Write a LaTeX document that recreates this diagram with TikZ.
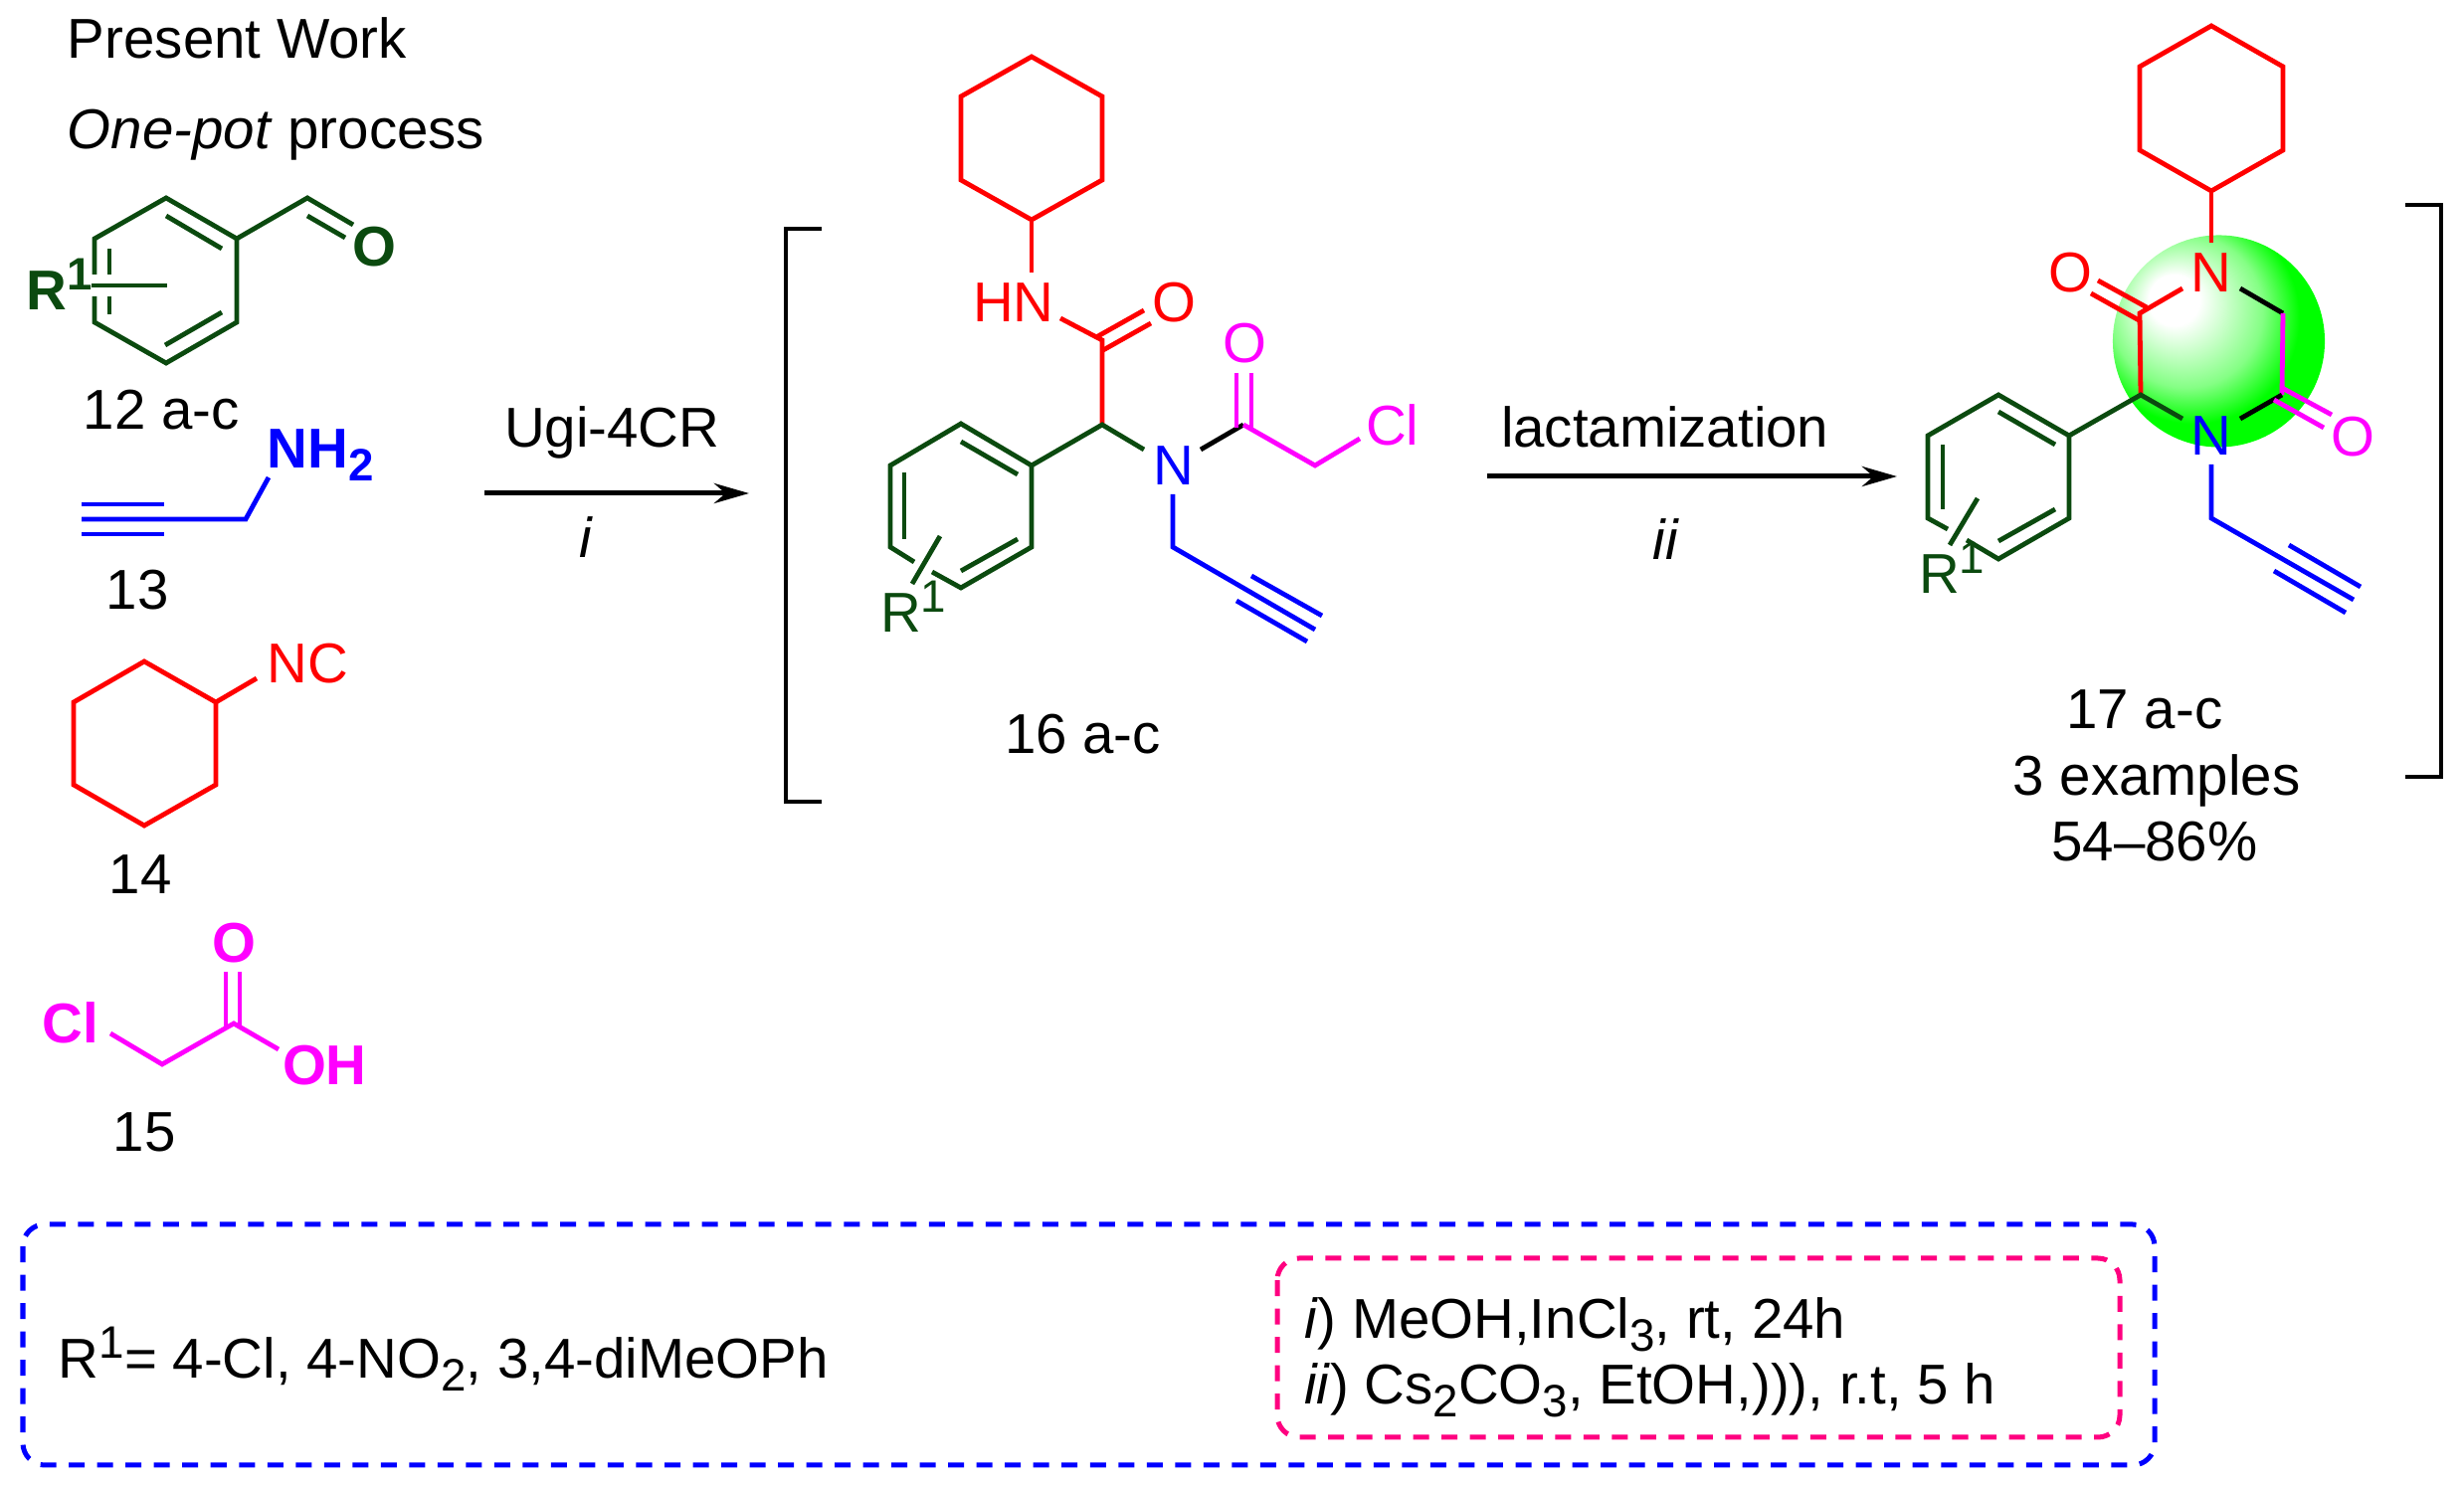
\documentclass[tikz,border=0pt]{standalone}
\usepackage{fontspec}
\setmainfont{Liberation Sans}
\usetikzlibrary{arrows.meta,calc,positioning}
\definecolor{leaf}{HTML}{0B4A0F}
\definecolor{rose}{HTML}{FF0080}
\definecolor{fuchsia}{HTML}{FF00FF}
\definecolor{pure red}{HTML}{FF0000}
\definecolor{pure blue}{HTML}{0000FF}
\pgfdeclareradialshading{lactam ball}{\pgfpoint{-12bp}{11bp}}{%
  rgb(0bp)=(1,1,1);rgb(6bp)=(1,1,1);rgb(11bp)=(0.8,1,0.8);rgb(18bp)=(0.52,1,0.52);rgb(23bp)=(0.15,1,0.15);rgb(25bp)=(0,1,0);rgb(50bp)=(0,1,0)}
\newcommand{\chemsup}[1]{\raisebox{0.37em}{\fontsize{13}{13}\selectfont #1}}
\newcommand{\chemsub}[1]{\raisebox{-0.22em}{\fontsize{13}{13}\selectfont #1}}
\begin{document}
\begin{tikzpicture}[% one unit is one pixel of the reference
        x = 0.01cm, y = -0.01cm,
        > = {Stealth[length=3.5mm,width=2mm]},
bond/.style  = {line width=0.48mm, line join=miter},
txt/.style   = {inner sep=0pt, outer sep=0pt, xshift=-0.03cm, font=\fontsize{16.05}{19}\selectfont, anchor=base west},
btxt/.style  = {txt, font=\fontsize{16.05}{19}\selectfont\bfseries},
atom/.style  = {inner sep=0pt, outer sep=0pt, font=\fontsize{16.05}{19}\selectfont},
batom/.style = {inner sep=0pt, outer sep=0pt, font=\fontsize{16.05}{19}\selectfont\bfseries},
bracket/.style = {line width=0.45mm, line join=miter},
frame/.style = {line width=0.5mm, rounded corners=2.2mm, dash pattern=on 1.6mm off 1.25mm}
                        ]
	\useasboundingbox (0,0) rectangle (2477,1495);

	% headings
	\node[txt] (head1) at (71,59) {Present Work};
	\node[txt] (head2) at (71,150) {\textit{One-pot} process};

	% aldehyde 12
	\coordinate (a1) at (167,199);
	\coordinate (a2) at (238,240);
	\coordinate (a3) at (238,324);
	\coordinate (a4) at (167,365);
	\coordinate (a5) at (95,324);
	\coordinate (a6) at (95,240);
	\coordinate (a7) at (309,199);
	\draw[bond,leaf] (95,276) -- (a6) -- (a1) -- (a2) -- (a3) -- (a4) -- (a5) -- (95,298);
	\draw[bond,leaf] (167,217) -- (223,250);
	\draw[bond,leaf] (166,347) -- (223,314);
	\draw[bond,leaf] (110,250) -- (110,276);
	\draw[bond,leaf] (110,298) -- (110,316);
	\draw[bond,leaf] (92,287) -- (168,287);
	\draw[bond,leaf] (a2) -- (a7) -- (355,226);
	\draw[bond,leaf] (309,217) -- (347,239);
	\node[batom,leaf] (oa) at (376,248) {O};
	\node[btxt,leaf] (ra) at (30,312) {R\chemsup{1}};
	\node[txt] (n12) at (87,432) {12 a-c};

	% amine 13
	\coordinate (b1) at (82,522);
	\coordinate (b2) at (247,522);
	\coordinate (b3) at (270,480);
	\draw[bond,pure blue] (b1) -- (b2) -- (b3);
	\draw[bond,pure blue] (82,507) -- (165,507);
	\draw[bond,pure blue] (82,537) -- (165,537);
	\node[btxt,pure blue] (nh) at (272,471) {NH\chemsub{2}};
	\node[txt] (n13) at (110,613) {13};

	% isocyanide 14
	\coordinate (c1) at (145,665);
	\coordinate (c2) at (217,706);
	\coordinate (c3) at (217,789);
	\coordinate (c4) at (145,830);
	\coordinate (c5) at (74,789);
	\coordinate (c6) at (74,706);
	\draw[bond,pure red] (c1) -- (c2) -- (c3) -- (c4) -- (c5) -- (c6) -- cycle;
	\draw[bond,pure red] (c2) -- (258,682);
	\node[txt,pure red] (nc) at (272,687) {NC};
	\node[txt] (n14) at (113,899) {14};

	% acid 15
	\coordinate (d1) at (111,1039);
	\coordinate (d2) at (163,1070);
	\coordinate (d3) at (235,1029);
	\coordinate (d4) at (280,1055);
	\draw[bond,fuchsia] (d1) -- (d2) -- (d3) -- (d4);
	\draw[bond,fuchsia] (227,977) -- (227,1032);
	\draw[bond,fuchsia] (241,977) -- (241,1032);
	\node[batom,fuchsia] (od) at (235,948) {O};
	\node[btxt,fuchsia] (cld) at (46,1049) {Cl};
	\node[btxt,fuchsia] (oh) at (287,1091) {OH};
	\node[txt] (n15) at (117,1158) {15};

	% first arrow
	\coordinate (s1) at (487,496);
	\coordinate (e1) at (753,496);
	\draw[->,line width=0.5mm] (s1) -- (e1);
	\node[txt] (ugi) at (510,450) {Ugi-4CR};
	\node[txt,anchor=base] (cat1) at (592,561) {\textit{i}};

	% left bracket
	\draw[bracket] (826,230) -- (790,230) -- (790,806) -- (826,806);

	% intermediate 16
	\coordinate (e1a) at (1037,57);
	\coordinate (e2a) at (1108,97);
	\coordinate (e3a) at (1108,181);
	\coordinate (e4a) at (1037,221);
	\coordinate (e5a) at (966,181);
	\coordinate (e6a) at (966,97);
	\draw[bond,pure red] (e1a) -- (e2a) -- (e3a) -- (e4a) -- (e5a) -- (e6a) -- cycle;
	\draw[bond,pure red] (e4a) -- (1037,274);
	\node[txt,pure red] (hn) at (981,324) {HN};
	\coordinate (e7) at (1108,342);
	\coordinate (e8) at (1108,427);
	\draw[bond,pure red] (1066,320) -- (e7) -- (e8);
	\draw[bond,pure red] (1102,339) -- (1150,312);
	\draw[bond,pure red] (1109,352) -- (1157,325);
	\node[atom,pure red] (oe) at (1180,304) {O};
	\coordinate (f1) at (1037,468);
	\coordinate (f2) at (966,426);
	\coordinate (f3) at (895,468);
	\coordinate (f4) at (895,550);
	\coordinate (f5) at (966,591);
	\coordinate (f6) at (1037,550);
	\draw[bond,leaf] (919,565) -- (f4) -- (f3) -- (f2) -- (f1) -- (f6) -- (f5) -- (937,575);
	\draw[bond,leaf] (966,444) -- (1023,477);
	\draw[bond,leaf] (909,475) -- (909,542);
	\draw[bond,leaf] (966,574) -- (1023,542);
	\draw[bond,leaf] (945,539) -- (917,587);
	\draw[bond,leaf] (f1) -- (e8) -- (1150,452);
	\node[txt,leaf] (rf) at (888,636) {R\chemsup{1}};
	\node[atom,pure blue] (ne) at (1180,468) {N};
	\coordinate (g1) at (1250,427);
	\coordinate (g2) at (1322,468);
	\draw[bond,black] (1207,452) -- (g1);
	\draw[bond,fuchsia] (g1) -- (g2) -- (1367,441);
	\draw[bond,fuchsia] (1243,375) -- (1243,430);
	\draw[bond,fuchsia] (1258,375) -- (1258,430);
	\node[atom,fuchsia] (og) at (1251,345) {O};
	\node[txt,fuchsia] (clg) at (1376,448) {Cl};
	\coordinate (h1) at (1179,550);
	\coordinate (h2) at (1322,633);
	\draw[bond,pure blue] (1179,497) -- (h1) -- (h2);
	\draw[bond,pure blue] (1258,579) -- (1329,619);
	\draw[bond,pure blue] (1243,604) -- (1314,645);
	\node[txt] (n16) at (1013,758) {16 a-c};

	% second arrow
	\coordinate (s2) at (1495,479);
	\coordinate (e2) at (1907,479);
	\draw[->,line width=0.5mm] (s2) -- (e2);
	\node[txt] (lac) at (1512,450) {lactamization};
	\node[txt,anchor=base] (cat2) at (1678,563) {\textit{ii}};

	% product 17
	\shade[shading=lactam ball] (2230.5,343) circle [radius=1.065cm];
	\coordinate (p1) at (2223,26);
	\coordinate (p2) at (2295,67);
	\coordinate (p3) at (2295,151);
	\coordinate (p4) at (2223,192);
	\coordinate (p5) at (2151,151);
	\coordinate (p6) at (2151,67);
	\draw[bond,pure red] (p1) -- (p2) -- (p3) -- (p4) -- (p5) -- (p6) -- cycle;
	\draw[bond,pure red] (p4) -- (2223,244);
	\node[atom,pure red] (nq) at (2223,274) {N};
	\coordinate (q1) at (2151,315);
	\coordinate (q2) at (2152,397);
	\coordinate (q3) at (2295,315);
	\coordinate (q4) at (2294,397);
	\draw[bond,pure red] (2194,290) -- (q1) -- (q2);
	\draw[bond,pure red] (2109,282) -- (2158,309);
	\draw[bond,pure red] (2102,295) -- (2152,323);
	\node[atom,pure red] (oq) at (2081,274) {O};
	\draw[bond,black] (2252,290) -- (q3);
	\draw[bond,fuchsia] (q3) -- (q4);
	\draw[bond,black] (2252,421) -- (q4);
	\draw[bond,fuchsia] (2294,390) -- (2344,417);
	\draw[bond,fuchsia] (2286,402) -- (2336,430);
	\node[atom,fuchsia] (or) at (2365,439) {O};
	\coordinate (r1) at (2080,438);
	\coordinate (r2) at (2009,397);
	\coordinate (r3) at (1938,438);
	\coordinate (r4) at (1938,521);
	\coordinate (r5) at (2009,562);
	\coordinate (r6) at (2080,521);
	\draw[bond,leaf] (1958,532) -- (r4) -- (r3) -- (r2) -- (r1) -- (r6) -- (r5) -- (1977,543);
	\draw[bond,leaf] (2009,414) -- (2066,447);
	\draw[bond,leaf] (1953,447) -- (1953,512);
	\draw[bond,leaf] (2009,544) -- (2066,512);
	\draw[bond,leaf] (1988,501) -- (1960,548);
	\draw[bond,leaf] (r1) -- (q2) -- (2194,421);
	\node[txt,leaf] (rr) at (1932,597) {R\chemsup{1}};
	\node[atom,pure blue] (ns) at (2223,438) {N};
	\coordinate (t1) at (2223,521);
	\coordinate (t2) at (2366,603);
	\draw[bond,pure blue] (2223,467) -- (t1) -- (t2);
	\draw[bond,pure blue] (2301,548) -- (2373,590);
	\draw[bond,pure blue] (2286,574) -- (2358,616);
	\node[txt,anchor=base] (n17) at (2159,733) {17 a-c};
	\node[txt,anchor=base] (ex) at (2171,800) {3 examples};
	\node[txt,anchor=base] (yld) at (2169,866) {54–86\%};

	% right bracket
	\draw[bracket] (2418,206) -- (2454,206) -- (2454,781) -- (2418,781);

	% boxes
	\draw[frame,pure blue] (23,1231) rectangle (2166,1473);
	\draw[frame,rose] (1284,1265) rectangle (2131,1445);
	\node[txt] (subst) at (62,1386) {R\chemsup{1}= 4-Cl, 4-NO\chemsub{2}, 3,4-diMeOPh};
	\node[txt] (cond1) at (1314,1346) {\textit{i}) MeOH,InCl\chemsub{3}, rt, 24h};
	\node[txt] (cond2) at (1314,1412) {\textit{ii}) Cs\chemsub{2}CO\chemsub{3}, EtOH,))), r.t, 5 h};
\end{tikzpicture}
\end{document}
